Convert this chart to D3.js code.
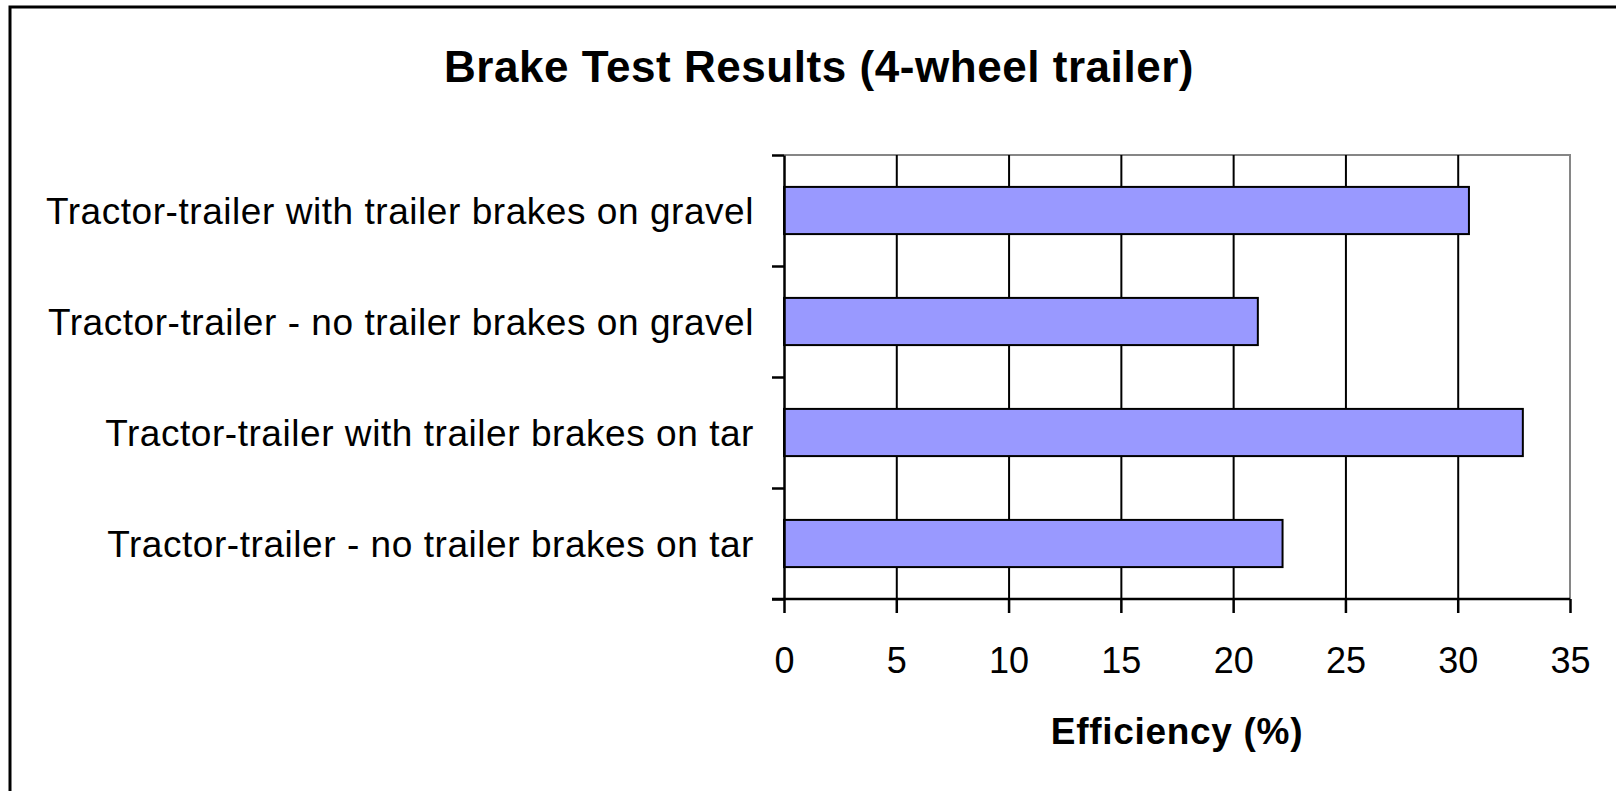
<!DOCTYPE html>
<html>
<head>
<meta charset="utf-8">
<script src="https://cdn.jsdelivr.net/npm/d3@7"></script>
<style>
  html, body { margin: 0; background: #fff; overflow: hidden; }
  svg { display: block; font-family: "Liberation Sans", Arial, sans-serif; }
</style>
</head>
<body>
<div id="chart"></div>
<script>
// chart data
const categories = [
  "Tractor-trailer with trailer brakes on gravel",
  "Tractor-trailer - no trailer brakes on gravel",
  "Tractor-trailer with trailer brakes on tar",
  "Tractor-trailer - no trailer brakes on tar"
];
const efficiency = [30.5, 21.1, 32.9, 22.2];
const xTicks = [0, 5, 10, 15, 20, 25, 30, 35];
const chartTitle = "Brake Test Results (4-wheel trailer)";
const xTitle = "Efficiency (%)";

const width = 1616, height = 791;
const margin = { top: 155, right: 46, bottom: 192, left: 784 };
const plotW = width - margin.left - margin.right;
const plotH = height - margin.top - margin.bottom;

const svg = d3.select("#chart")
  .append("svg")
  .attr("width", width)
  .attr("height", height);

// outer frame (right and bottom edges lie outside the picture)
svg.append("rect")
  .attr("x", 10).attr("y", 7)
  .attr("width", 3000).attr("height", 3000)
  .attr("fill", "#fff")
  .attr("stroke", "#000")
  .attr("stroke-width", 3);

// title
svg.append("text")
  .attr("x", 819).attr("y", 82)
  .attr("text-anchor", "middle")
  .attr("font-size", "44px")
  .attr("font-weight", "bold")
  .attr("letter-spacing", "0.55px")
  .text(chartTitle);

// scales
const x = d3.scaleLinear()
  .domain([0, 35])
  .range([margin.left, margin.left + plotW]);

const y = d3.scaleBand()
  .domain(categories)
  .range([margin.top, margin.top + plotH])
  .paddingInner(0.575)
  .paddingOuter(0.2875);

// category boundary scale for the left axis ticks
const yEdge = d3.scaleLinear()
  .domain([0, categories.length])
  .range([margin.top, margin.top + plotH]);

// plot border (top and right, grey)
svg.append("path")
  .attr("d", `M${margin.left},${margin.top}H${margin.left + plotW}V${margin.top + plotH}`)
  .attr("fill", "none")
  .attr("stroke", "#868686")
  .attr("stroke-width", 2);

// vertical gridlines
svg.append("g")
  .attr("transform", `translate(0,${margin.top + plotH})`)
  .call(d3.axisBottom(x).tickValues(xTicks.slice(1, -1)).tickSize(-plotH).tickFormat(""))
  .call((g) => g.select(".domain").remove())
  .call((g) => g.selectAll("line").attr("stroke", "#000").attr("stroke-width", 2));

// bars
svg.selectAll("rect.bar")
  .data(categories)
  .enter()
  .append("rect")
  .attr("class", "bar")
  .attr("x", x(0))
  .attr("y", (d) => y(d))
  .attr("width", (d, i) => x(efficiency[i]) - x(0))
  .attr("height", y.bandwidth())
  .attr("fill", "#9999FF")
  .attr("stroke", "#000")
  .attr("stroke-width", 2);

// x axis
svg.append("g")
  .attr("transform", `translate(0,${margin.top + plotH})`)
  .call(d3.axisBottom(x).tickValues(xTicks).tickSize(14).tickPadding(34))
  .attr("font-size", "36px")
  .attr("font-family", null)
  .call((g) => g.select(".domain").attr("d", `M${margin.left - 12},0H${margin.left + plotW}`).attr("stroke-width", 2.5))
  .call((g) => g.selectAll("line").attr("stroke-width", 2.5))
  .call((g) => g.selectAll("text").attr("fill", "#000"));

// y axis (ticks at category boundaries)
svg.append("g")
  .attr("transform", `translate(${margin.left},0)`)
  .call(d3.axisLeft(yEdge).ticks(4).tickSize(12).tickFormat("").tickSizeOuter(0))
  .call((g) => g.select(".domain").attr("stroke-width", 2.5))
  .call((g) => g.selectAll("line").attr("stroke-width", 2.5));

// category labels
svg.selectAll("text.cat")
  .data(categories)
  .enter()
  .append("text")
  .attr("class", "cat")
  .attr("x", 754)
  .attr("y", (d) => y(d) + y.bandwidth() / 2 + 13)
  .attr("text-anchor", "end")
  .attr("font-size", "37px")
  .attr("letter-spacing", "0.55px")
  .text((d) => d);

// x axis title
svg.append("text")
  .attr("x", margin.left + plotW / 2)
  .attr("y", 744)
  .attr("text-anchor", "middle")
  .attr("font-size", "37px")
  .attr("font-weight", "bold")
  .attr("letter-spacing", "0.7px")
  .text(xTitle);
</script>
</body>
</html>
